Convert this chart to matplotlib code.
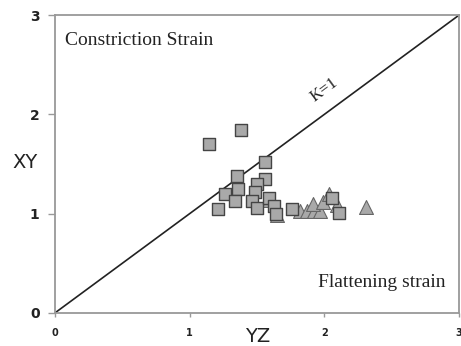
import matplotlib
matplotlib.use("Agg")
import matplotlib.pyplot as plt

# Squares (YZ, XY)
sq_yz = [1.143, 1.381, 1.562, 1.354, 1.562, 1.361, 1.497, 1.262, 1.485, 1.336, 1.46,
         1.213, 1.50, 1.59, 1.626, 1.638, 1.757, 2.054, 2.11]
sq_xy = [1.70, 1.84, 1.52, 1.38, 1.35, 1.25, 1.30, 1.20, 1.22, 1.13, 1.13,
         1.044, 1.06, 1.155, 1.077, 1.00, 1.05, 1.155, 1.01]
# Triangles (YZ, XY)
tr_yz = [1.645, 1.82, 1.87, 1.92, 1.97, 1.918, 1.99, 2.034, 2.09, 2.31, 1.59]
tr_xy = [0.99, 1.03, 1.03, 1.03, 1.03, 1.10, 1.12, 1.20, 1.09, 1.07, 1.14]

ticks = [0, 1, 2, 3]
tick_labels = ["0", "1", "2", "3"]

fig = plt.figure(figsize=(4.61, 3.46), dpi=100)
ax = fig.add_axes([0.119, 0.0954, 0.877, 0.8612])

ax.plot([0, 3], [0, 3], color="#222222", lw=1.2, zorder=1)
ax.scatter(tr_yz, tr_xy, marker="^", s=100, facecolor="#a9a9a9", edgecolor="#666666",
           linewidths=0.8, zorder=2)
ax.scatter(sq_yz, sq_xy, marker="s", s=80, facecolor="#a9a9a9", edgecolor="#444444",
           linewidths=1.0, zorder=3)

ax.set_xlim(0, 3)
ax.set_ylim(0, 3)
ax.set_xticks(ticks)
ax.set_xticklabels(tick_labels, fontsize=7, fontweight="bold", color="#222222")
ax.set_yticks(ticks)
ax.set_yticklabels(tick_labels, fontsize=10, fontweight="bold", color="#222222")
ax.tick_params(axis="x", length=3, width=1, color="#999999", pad=8)
ax.tick_params(axis="y", length=5, width=1, color="#999999", pad=6)
for sp in ax.spines.values():
    sp.set_color("#999999")
    sp.set_linewidth(1.3)

ax.text(0.074, 2.74, "Constriction Strain", family="Liberation Serif", fontsize=14,
        ha="left", va="center", color="#222222")
ax.text(2.895, 0.31, "Flattening strain", family="Liberation Serif", fontsize=14,
        ha="right", va="center", color="#222222")
ax.text(2.0, 2.25, "K=1", family="Liberation Serif", fontsize=12, rotation=36.4,
        ha="center", va="center", color="#222222", rotation_mode="anchor")

fig.text(25 / 461, 1 - 163 / 346, "XY", fontsize=14, ha="center", va="center", color="#222222")
fig.text(258 / 461, 1 - 336 / 346, "YZ", fontsize=14, ha="center", va="center", color="#222222")

fig.savefig("out.png", dpi=100)
